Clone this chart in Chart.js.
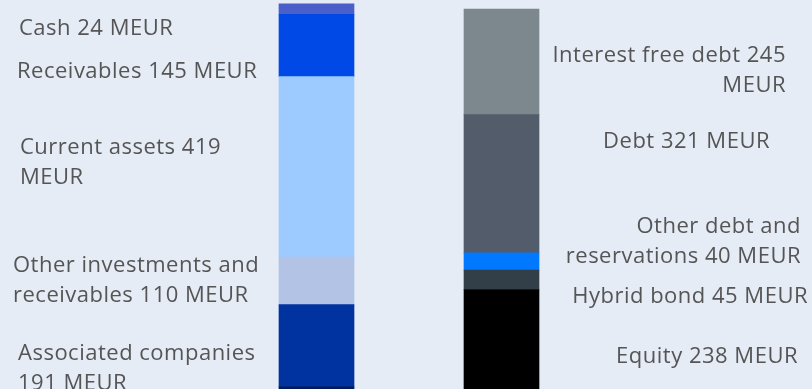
<!DOCTYPE html>
<html>
<head>
<meta charset="utf-8">
<script src="https://cdn.jsdelivr.net/npm/chart.js@4/dist/chart.umd.min.js"></script>
<style>
  html, body { margin: 0; padding: 0; background: #e5ecf6; }
  #wrap { width: 812px; height: 389px; position: relative; }
</style>
</head>
<body>
<div id="wrap"><canvas id="c"></canvas></div>
<script>
// Balance sheet, MEUR. Segments listed bottom to top.
const columns = ['Assets', 'Equity and liabilities'];

const assetNames  = ['Other', 'Associated companies', 'Other investments and receivables', 'Current assets', 'Receivables', 'Cash'];
const assetValues = [12, 191, 110, 419, 145, 24];
const assetColors = ['#001a5c', '#0033a0', '#b3c3e6', '#9dcbff', '#0149e6', '#4a5fc8'];

const liabNames  = ['Equity', 'Hybrid bond', 'Other debt and reservations', 'Debt', 'Interest free debt'];
const liabValues = [238, 45, 40, 321, 245];
const liabColors = ['#000000', '#333f48', '#0078ff', '#525c6b', '#7d888e'];

// Text beside each bar (line breaks as printed)
const assetLabels = [
  { lines: ['Cash ' + assetValues[5] + ' MEUR'], x: 19, y: 35 },
  { lines: ['Receivables ' + assetValues[4] + ' MEUR'], x: 17, y: 78 },
  { lines: ['Current assets ' + assetValues[3], 'MEUR'], x: 20, y: 154 },
  { lines: ['Other investments and', 'receivables ' + assetValues[2] + ' MEUR'], x: 13, y: 272 },
  { lines: ['Associated companies', assetValues[1] + ' MEUR'], x: 18, y: 360 }
];
const liabLabels = [
  { lines: ['Interest free debt ' + liabValues[4], 'MEUR'], x: 786, y: 62 },
  { lines: ['Debt ' + liabValues[3] + ' MEUR'], x: 770, y: 148 },
  { lines: ['Other debt and', 'reservations ' + liabValues[2] + ' MEUR'], x: 801, y: 233 },
  { lines: ['Hybrid bond ' + liabValues[1] + ' MEUR'], x: 808, y: 303 },
  { lines: ['Equity ' + liabValues[0] + ' MEUR'], x: 798, y: 363 }
];

const datasets = [];
assetValues.forEach((v, i) => datasets.push({
  label: assetNames[i], data: [v, null], backgroundColor: assetColors[i]
}));
liabValues.forEach((v, i) => datasets.push({
  label: liabNames[i], data: [null, v], backgroundColor: liabColors[i]
}));

const LINE_H = 29.5;
const sideText = {
  id: 'sideText',
  afterDraw(chart) {
    const ctx = chart.ctx;
    ctx.save();
    ctx.font = '22px "Open Sans"';
    ctx.letterSpacing = '0.5px';
    ctx.fillStyle = '#555555';
    ctx.textBaseline = 'alphabetic';
    ctx.textAlign = 'left';
    assetLabels.forEach(l => l.lines.forEach((t, k) => ctx.fillText(t, l.x, l.y + k * LINE_H)));
    ctx.textAlign = 'right';
    liabLabels.forEach(l => l.lines.forEach((t, k) => ctx.fillText(t, l.x, l.y + k * LINE_H)));
    ctx.restore();
  }
};

new Chart(document.getElementById('c'), {
  type: 'bar',
  data: { labels: columns, datasets },
  options: {
    responsive: true,
    maintainAspectRatio: false,
    animation: false,
    layout: { padding: { left: 224, right: 218, top: 0, bottom: 0 } },
    datasets: { bar: { barThickness: 75, borderWidth: 0 } },
    plugins: { legend: { display: false }, tooltip: { enabled: false } },
    scales: {
      x: { stacked: true, display: false },
      y: { stacked: true, display: false, min: 7, max: 910 }
    }
  },
  plugins: [sideText]
});
</script>
</body>
</html>
